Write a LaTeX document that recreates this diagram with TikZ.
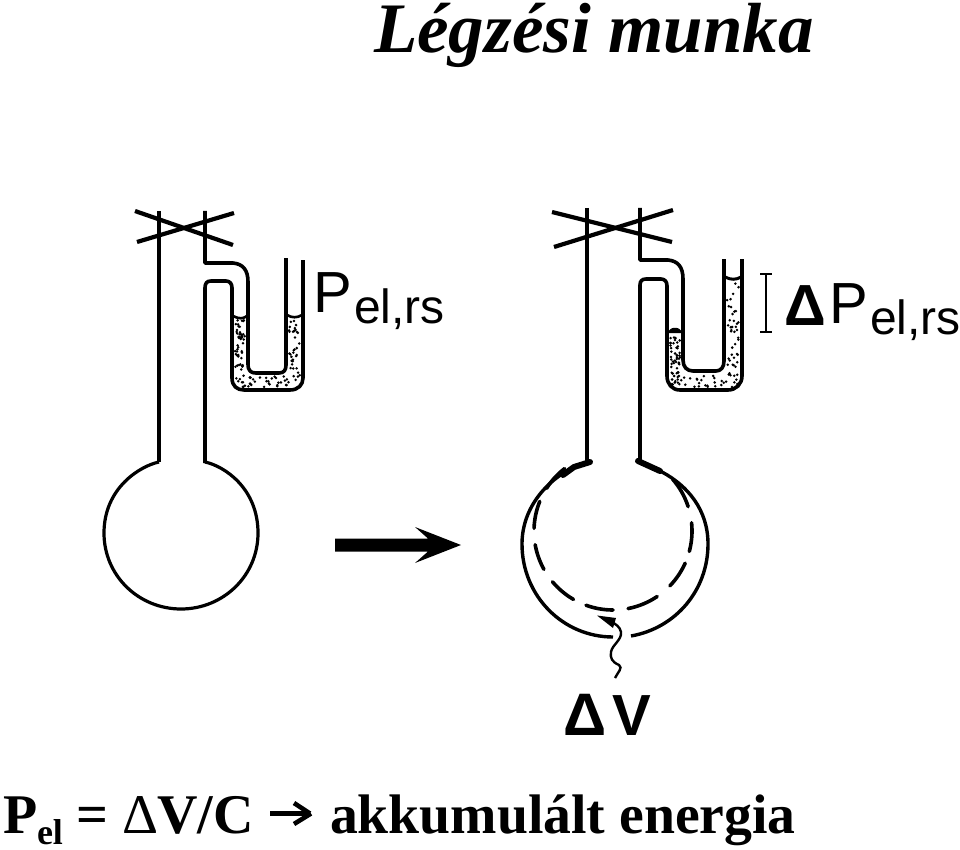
\documentclass[tikz,border=0pt]{standalone}
\usepackage{fontspec}
\setmainfont{Liberation Serif}
\setsansfont{Liberation Sans}
\newcommand{\fsz}[1]{\fontsize{#1}{#1}\selectfont}
\tikzset{
  glass/.style={line width=3.6pt,line join=round,line cap=butt},
  crossbar/.style={line width=4.2pt},
  txt/.style={inner sep=0pt,outer sep=0pt,anchor=base west},
  lab/.style={txt,font=\sffamily},
  dashwall/.style={line width=3.6pt,line cap=round}
}
\newcommand{\speck}[9]{%
  \pgfmathsetseed{#9}%
  \foreach \i in {1,...,120}{%
    \pgfmathsetmacro{\rr}{rnd}%
    \pgfmathsetmacro{\ra}{rnd}%
    \pgfmathsetmacro{\rb}{rnd}%
    \pgfmathsetmacro{\px}{\rr<0.38 ? #1+3+\ra*(#2-#1-6) : (\rr<0.66 ? #1+4+\ra*(#4-#1-8) : #3+3+\ra*(#4-#3-6))}%
    \pgfmathsetmacro{\py}{\rr<0.38 ? #5+5+\rb*(#7-#5) : (\rr<0.66 ? #7+3+\rb*(#8-#7-6) : #6+5+\rb*(#7-#6))}%
    \fill (\px,\py) circle (1.4);%
  }%
}
\begin{document}
\begin{tikzpicture}[x=1pt,y=-1pt]
\useasboundingbox (0,0) rectangle (960,850);
\fill[white] (0,0) rectangle (960,850);

% Title
\node[txt,font=\fsz{71}\bfseries\itshape] (title) at (374,53) {Légzési munka};

% --- left apparatus ---
\draw[glass] (159,211) -- (159,462);
\draw[glass] (205,211) -- (205,263) -- (233,263) .. controls (243,264) and (248,270) .. (248,282)
  -- (248,364) .. controls (248,371) and (251,373) .. (256,373) -- (279,373)
  .. controls (284,373) and (286,370) .. (286,365) -- (286,258);
\draw[glass] (205,463) -- (205,288) .. controls (205,283) and (207,281) .. (211,281) -- (226,281)
  .. controls (230,281) and (232,284) .. (232,288) -- (232,378) .. controls (232,386) and (237,390) .. (244,390)
  -- (290,390) .. controls (298,390) and (303,385) .. (303,378) -- (303,260);
\draw[crossbar] (135,211) -- (233,245);
\draw[crossbar] (137,242) -- (234,213);
\speck{232}{248}{286}{303}{315}{315}{373}{390}{11}
\draw[line width=2.6pt] (233,316) .. controls (239,319) and (243,319) .. (247,316);
\draw[line width=2.6pt] (287,315) .. controls (292,318) and (297,318) .. (302,315);
\draw[line width=3.2pt] (159,462) .. controls (140,466) and (104,488) .. (104,533)
  .. controls (104,576) and (139,609) .. (181,609)
  .. controls (223,609) and (258,576) .. (258,533)
  .. controls (258,488) and (224,466) .. (205,462);

\node[lab,font=\sffamily\fsz{58}] (pl) at (313,312) {P};
\node[lab,font=\sffamily\fsz{48}] (plsub) at (354,323) {el,rs};

% --- arrow between ---
\coordinate (ba) at (335,545);
\coordinate (bb) at (461,545);
\fill (ba) ++(0,-6.5) -- (428,538.5) -- (415,527) -- (bb) -- (415,563) -- (428,551.5) -- (335,551.5) -- cycle;

% --- right apparatus ---
\draw[glass] (587,208) -- (587,462);
\draw[glass] (640,208) -- (640,260) -- (668,260) .. controls (678,261) and (683,267) .. (683,279)
  -- (683,360) .. controls (683,367) and (687,371) .. (693,371) -- (716,371)
  .. controls (721,371) and (724,367) .. (724,361) -- (724,259);
\draw[glass] (640,463) -- (640,285) .. controls (640,281) and (642,279) .. (646,279) -- (661,279)
  .. controls (665,279) and (667,282) .. (667,286) -- (667,376) .. controls (667,384) and (672,390) .. (680,390)
  -- (728,390) .. controls (736,390) and (742,384) .. (742,376) -- (742,259);
\draw[crossbar] (552,212) -- (672,242);
\draw[crossbar] (554,247) -- (673,210);
\speck{667}{683}{724}{742}{332}{277}{371}{390}{29}
\fill (668,333) .. controls (669,326) and (681,326) .. (682,333) -- cycle;
\draw[line width=3pt] (725,277) .. controls (731,280) and (736,280) .. (741,277);
\draw[line width=2.8pt] (766,274) -- (766,332);
\draw[line width=2pt] (760,274) -- (772,274) (760,332) -- (772,332);

% bulb wall
\draw[line width=3.4pt] (613,637) .. controls (563,637) and (522,596) .. (522,544)
  .. controls (522,510) and (544,482) .. (574,467);
\draw[line width=3.4pt] (631,636) .. controls (676,628) and (708,590) .. (708,544)
  .. controls (708,510) and (688,486) .. (662,472);
\draw[line width=6pt,line cap=round] (590,462) -- (574,467) -- (563,475);
\draw[line width=6pt,line cap=round] (638,461) -- (660,471);

% inner dashed wall
\foreach \sa/\ea in {127.8/147.4,158/178,190/209,220/240,250/270,281/304,316/336,345/366,378/401}{
  \draw[dashwall] ({613+79*cos(\sa)},{531-79*sin(\sa)}) arc[start angle=-\sa,end angle=-\ea,radius=79];
}

% wavy pointer
\coordinate (wa) at (615,678);
\coordinate (wb) at (610,621);
\draw[line width=2.4pt] (wa) .. controls (618,672) and (623,668) .. (619,665)
  .. controls (612,662) and (610,658) .. (611,652)
  .. controls (612,645) and (622,640) .. (621,632)
  .. controls (620,627) and (616,624) .. (wb);
\fill (597,615.5) -- (616,618) -- (613,628) -- cycle;

\node[lab,font=\sffamily\bfseries\fsz{60}] (dv) at (563,735) {\char"0394};
\node[lab,font=\sffamily\bfseries\fsz{58}] (dv2) at (612,735) {V};

% Delta P label
\node[lab,font=\sffamily\bfseries\fsz{58}] (dp) at (784,325) {\char"0394};
\node[lab,font=\sffamily\fsz{58}] (dpp) at (829,323) {P};
\node[lab,font=\sffamily\fsz{48}] (dpsub) at (870,334) {el,rs};

% formula
\node[txt,font=\bfseries\fsz{56}] (fp) at (3,833) {P};
\node[txt,font=\bfseries\fsz{36}] (fel) at (37,844) {el};
\node[txt,font=\bfseries\fsz{56}] (feq) at (76,833) {=};
\node[txt,font=\fsz{56}] (fd) at (122,833) {\char"0394};
\node[txt,font=\bfseries\fsz{56}] (fv) at (157,833) {V/C};
\coordinate (fa) at (270,813.5);
\coordinate (fb) at (310,813.5);
\draw[line width=4.4pt] (fa) -- (fb);
\draw[line width=4.6pt,line join=miter] (294,803) -- (fb) ++(1,0) -- (294,824);
\node[txt,font=\bfseries\fsz{55.7}] (fe) at (330,833) {akkumulált energia};
\end{tikzpicture}
\end{document}
